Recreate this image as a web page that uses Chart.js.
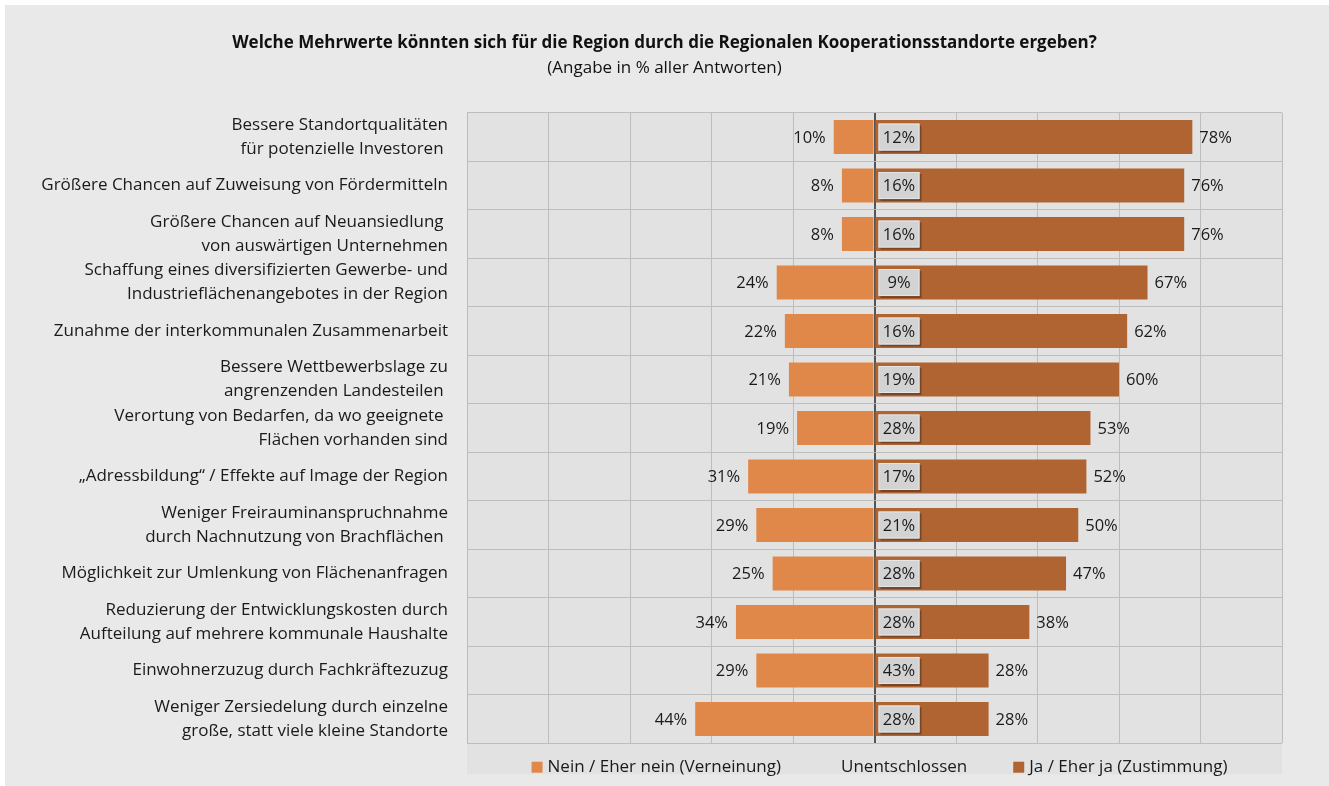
<!DOCTYPE html>
<html>
<head>
<meta charset="utf-8">
<script src="https://cdn.jsdelivr.net/npm/chart.js@4.4.0/dist/chart.umd.min.js"></script>
<style>
    html, body { margin: 0; padding: 0; background: #fff; }
    #wrap { position: relative; width: 1329px; height: 786px; }
</style>
</head>
<body>
<div id="wrap"><canvas id="chart"></canvas></div>
<script>
// Kategorien (Y-Achse)
const categories = [
    ['Bessere Standortqualitäten', 'für potenzielle Investoren '],
    'Größere Chancen auf Zuweisung von Fördermitteln',
    ['Größere Chancen auf Neuansiedlung ', 'von auswärtigen Unternehmen'],
    ['Schaffung eines diversifizierten Gewerbe- und', 'Industrieflächenangebotes in der Region'],
    'Zunahme der interkommunalen Zusammenarbeit',
    ['Bessere Wettbewerbslage zu', 'angrenzenden Landesteilen '],
    ['Verortung von Bedarfen, da wo geeignete ', 'Flächen vorhanden sind'],
    '„Adressbildung“ / Effekte auf Image der Region',
    ['Weniger Freirauminanspruchnahme', 'durch Nachnutzung von Brachflächen '],
    'Möglichkeit zur Umlenkung von Flächenanfragen',
    ['Reduzierung der Entwicklungskosten durch', 'Aufteilung auf mehrere kommunale Haushalte'],
    'Einwohnerzuzug durch Fachkräftezuzug',
    ['Weniger Zersiedelung durch einzelne', 'große, statt viele kleine Standorte']
];

// Werte in %
const nein = [10, 8, 8, 24, 22, 21, 19, 31, 29, 25, 34, 29, 44];
const unentschlossen = [12, 16, 16, 9, 16, 19, 28, 17, 21, 28, 28, 43, 28];
const ja = [78, 76, 76, 67, 62, 60, 53, 52, 50, 47, 38, 28, 28];

// Achse
const xMin = -100;
const xMax = 100;
const xStep = 20;

const seriesNames = ['Nein / Eher nein (Verneinung)', 'Unentschlossen', 'Ja / Eher ja (Zustimmung)'];

const colorNein = '#e0884a';
const colorJa = '#b06431';
const fontFamily = '"Open Sans", sans-serif';

// Hintergrund zeichnen
const backgroundPlugin = {
    id: 'backgroundPlugin',
    beforeDraw(chart) {
        const ctx = chart.ctx;
        const area = chart.chartArea;
        ctx.save();
        ctx.fillStyle = '#e9e9e9';
        ctx.fillRect(5, 5, chart.width - 5, chart.height - 5);
        ctx.fillStyle = '#e2e2e2';
        ctx.fillRect(area.left, area.top, area.right - area.left, area.bottom - area.top + 31);
        ctx.restore();
    }
};

// Werte beschriften
const labelPlugin = {
    id: 'labelPlugin',
    afterDatasetsDraw(chart) {
        const ctx = chart.ctx;
        const x = chart.scales.x;
        const y = chart.scales.y;
        ctx.save();
        ctx.font = '16.5px ' + fontFamily;
        ctx.textBaseline = 'middle';
        categories.forEach((c, i) => {
            const yc = y.getPixelForValue(i);

            ctx.fillStyle = '#1a1a1a';
            ctx.textAlign = 'right';
            ctx.fillText(nein[i] + '%', x.getPixelForValue(-nein[i]) - 8, yc + 1);

            ctx.textAlign = 'left';
            ctx.fillText(ja[i] + '%', x.getPixelForValue(ja[i]) + 7, yc + 1);

            // Unentschlossen als Kasten an der Mitte
            const bx = x.getPixelForValue(0) + 4;
            const bw = 41;
            const bh = 27;
            const by = yc - bh / 2;
            ctx.fillStyle = 'rgba(60,40,30,0.5)';
            ctx.fillRect(bx + 2, by + 2, bw, bh);
            ctx.fillStyle = '#d3d3d3';
            ctx.fillRect(bx, by, bw, bh);
            ctx.strokeStyle = '#e6e6e6';
            ctx.lineWidth = 1;
            ctx.strokeRect(bx + 0.5, by + 0.5, bw - 1, bh - 1);
            ctx.fillStyle = '#1a1a1a';
            ctx.textAlign = 'center';
            ctx.fillText(unentschlossen[i] + '%', bx + bw / 2, yc + 1);
        });
        ctx.restore();
    }
};

// Legende unten (Unentschlossen ohne Farbkasten)
const legendPlugin = {
    id: 'legendPlugin',
    afterDraw(chart) {
        const ctx = chart.ctx;
        const area = chart.chartArea;
        const items = [
            { text: seriesNames[0], color: colorNein, gapAfter: 60 },
            { text: seriesNames[1], color: null, gapAfter: 46 },
            { text: seriesNames[2], color: colorJa, gapAfter: 0 }
        ];
        const box = 11;
        const boxGap = 5;
        ctx.save();
        ctx.font = '17px ' + fontFamily;
        ctx.textBaseline = 'middle';
        ctx.textAlign = 'left';
        let total = 0;
        items.forEach(it => {
            it.w = (it.color ? box + boxGap : 0) + ctx.measureText(it.text).width;
            total += it.w + it.gapAfter;
        });
        let xp = (area.left + area.right) / 2 - total / 2 + 5;
        const yc = area.bottom + 24;
        items.forEach(it => {
            if (it.color) {
                ctx.fillStyle = it.color;
                ctx.fillRect(xp, yc - box / 2, box, box);
                xp += box + boxGap;
            }
            ctx.fillStyle = '#1a1a1a';
            ctx.fillText(it.text, xp, yc);
            xp += ctx.measureText(it.text).width + it.gapAfter;
        });
        ctx.restore();
    }
};

const ctx = document.getElementById('chart').getContext('2d');

new Chart(ctx, {
    type: 'bar',
    data: {
        labels: categories,
        datasets: [
            {
                label: seriesNames[0],
                data: nein.map(v => -v),
                backgroundColor: colorNein
            },
            {
                label: seriesNames[2],
                data: ja,
                backgroundColor: colorJa
            }
        ]
    },
    options: {
        indexAxis: 'y',
        responsive: true,
        maintainAspectRatio: false,
        animation: false,
        datasets: {
            bar: {
                categoryPercentage: 1,
                barPercentage: 0.7
            }
        },
        layout: {
            padding: { top: 0, right: 0, bottom: 42, left: 0 }
        },
        scales: {
            x: {
                stacked: true,
                min: xMin,
                max: xMax,
                ticks: { display: false, stepSize: xStep },
                grid: {
                    drawTicks: false,
                    color: c => c.tick && c.tick.value === 0 ? '#555555' : '#bdbdbd',
                    lineWidth: c => c.tick && c.tick.value === 0 ? 2 : 1
                },
                border: { display: false }
            },
            y: {
                stacked: true,
                grid: { drawTicks: false, color: '#bdbdbd', offset: true },
                border: { display: false },
                ticks: {
                    autoSkip: false,
                    padding: 19,
                    color: '#1a1a1a',
                    font: { family: fontFamily, size: 17, lineHeight: 1.4 }
                },
                afterFit(scale) {
                    scale.width = 467;
                }
            },
            // leere Achse rechts als Rand
            yRight: {
                type: 'category',
                position: 'right',
                grid: { display: false, drawTicks: false },
                border: { display: false },
                ticks: { display: false },
                afterFit(scale) {
                    scale.width = 47;
                }
            }
        },
        plugins: {
            title: {
                display: true,
                text: 'Welche Mehrwerte könnten sich für die Region durch die Regionalen Kooperationsstandorte ergeben?',
                color: '#111',
                font: { family: fontFamily, size: 17, weight: 'bold', lineHeight: 1.2 },
                padding: { top: 33, bottom: 5 }
            },
            subtitle: {
                display: true,
                text: '(Angabe in % aller Antworten)',
                color: '#111',
                font: { family: fontFamily, size: 17, lineHeight: 1.2 },
                padding: { top: 0, bottom: 34 }
            },
            legend: { display: false },
            tooltip: { enabled: false }
        }
    },
    plugins: [backgroundPlugin, labelPlugin, legendPlugin]
});
</script>
</body>
</html>
